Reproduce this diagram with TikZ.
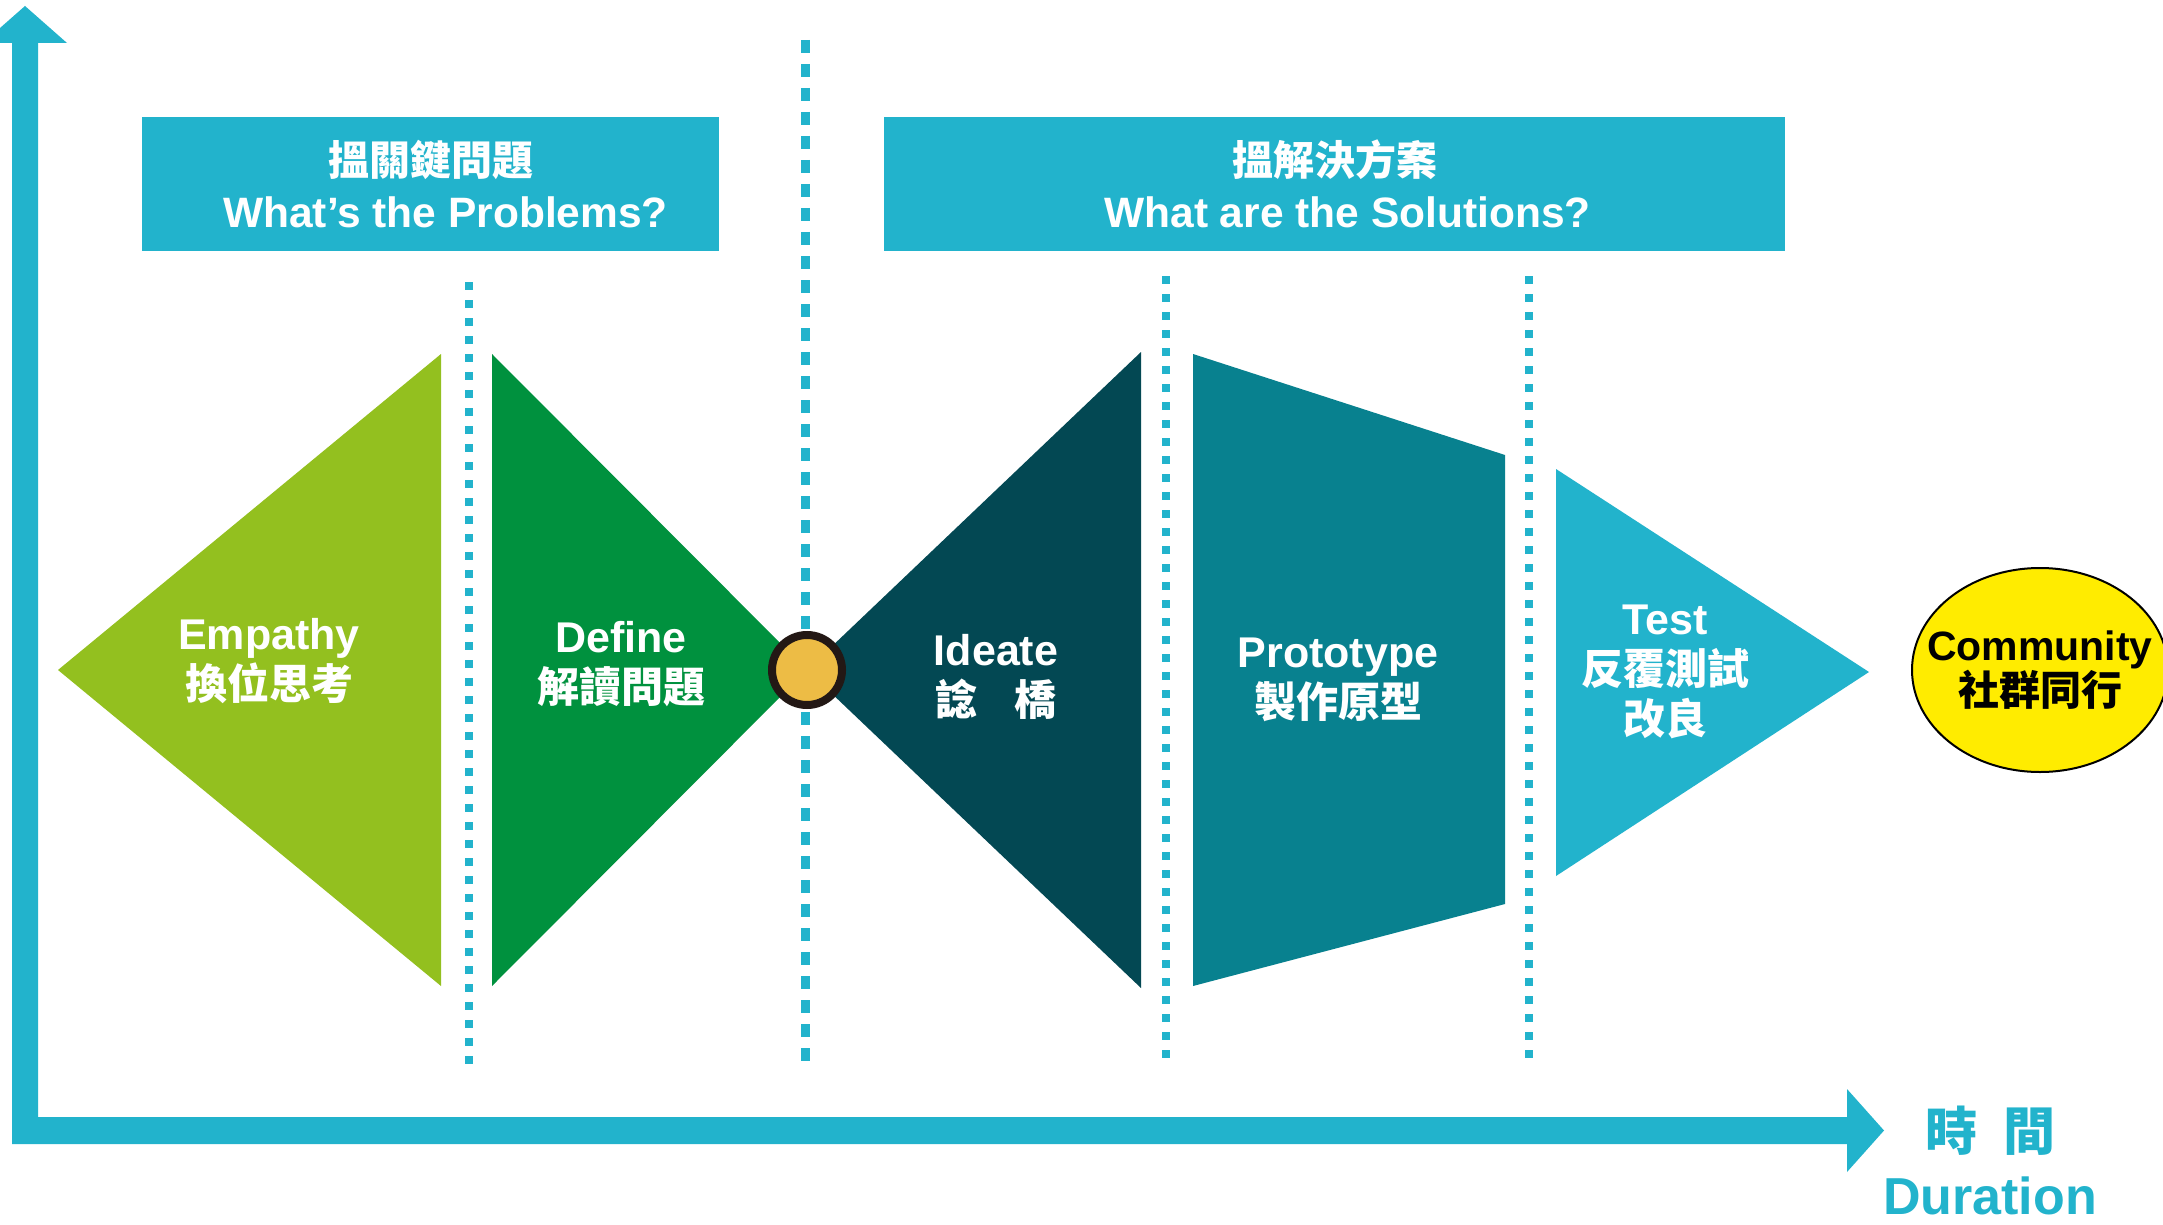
\documentclass[tikz,border=0pt]{standalone}
\usepackage{fontspec}
\setmainfont{Liberation Sans}
\newfontfamily\cjk{Noto Sans CJK TC}
\usetikzlibrary{shapes.geometric}
\definecolor{axiscyan}{RGB}{34,179,204}
\definecolor{empcol}{RGB}{147,192,31}
\definecolor{defcol}{RGB}{0,145,62}
\definecolor{ideacol}{RGB}{3,72,83}
\definecolor{protocol}{RGB}{8,129,143}
\definecolor{testcol}{RGB}{34,179,204}
\definecolor{goldcol}{RGB}{237,188,69}
\definecolor{ringcol}{RGB}{35,24,21}
\definecolor{yellowcol}{RGB}{255,236,0}
\tikzset{
  hdrbox/.style={fill=axiscyan, minimum width=577pt, minimum height=134pt, inner sep=0pt,
    text=white, align=center, font=\bfseries\fontsize{42.5}{52}\selectfont},
  stagetext/.style={text=white, align=center, inner sep=0pt, font=\bfseries\fontsize{43}{50}\selectfont},
  cjkstage/.style={},
  dotsmall/.style={draw=axiscyan, line width=8pt, dash pattern=on 8pt off 10pt},
  dotbig/.style={draw=axiscyan, line width=9pt, dash pattern=on 13pt off 11pt},
  axisfill/.style={fill=axiscyan},
}
\newcommand{\cjs}[1]{{\cjk\fontsize{42}{50}\selectfont #1}}
\begin{document}
\begin{tikzpicture}[x=1pt,y=-1pt]
\useasboundingbox (0,0) rectangle (2163,1225);
\fill[white] (0,0) rectangle (2163,1225);

% axes
\coordinate (origin) at (25,1130.5);
\fill[axisfill] (12,1144) -- (12,43) -- (-17,43) -- (25,6) -- (67,43) -- (38,43) -- (38,1117)
  -- (1847,1117) -- (1847,1089) -- (1884,1130.5) -- (1847,1172) -- (1847,1144) -- cycle;

% header boxes
\node[hdrbox] (hdrA) at (430.5,184) {{\cjk\fontsize{41}{52}\selectfont 搵關鍵問題}\\\hspace*{30pt}What’s the Problems?};
\node[hdrbox, minimum width=901pt] (hdrB) at (1334.5,184) {{\cjk\fontsize{41}{52}\selectfont 搵解決方案}\\\hspace*{26pt}What are the Solutions?};

% dotted separators
\draw[dotsmall] (469,282) -- (469,1065);
\draw[dotbig] (805,40) -- (805,1065);
\draw[dotsmall] (1166,276) -- (1166,1065);
\draw[dotsmall] (1529,276) -- (1529,1065);

% stage shapes
\coordinate (mid) at (807,670);
\fill[empcol] (58,670) -- (441,354) -- (441,986) -- cycle;
\fill[defcol] (492,354) -- (mid) -- (492,986) -- cycle;
\fill[ideacol] (1141,352) -- (mid) -- (1141,988) -- cycle;
\fill[protocol] (1193,354) -- (1505,455) -- (1505,904) -- (1193,986) -- cycle;
\fill[testcol] (1556,469) -- (1869,672) -- (1556,876) -- cycle;

% centre circle
\node[circle, draw=ringcol, line width=8pt, fill=goldcol, minimum size=70pt, inner sep=0pt] (hub) at (mid) {};

% stage labels
\node[stagetext] (tEmp) at (269,661) {Empathy\\\cjs{換位思考}};
\node[stagetext] (tDef) at (621,664) {Define\\\cjs{解讀問題}};
\node[stagetext] (tIdea) at (996,677) {Ideate\\\cjs{諗\hspace{0.9em}橋}};
\node[stagetext] (tProto) at (1338,680) {Prototype\\\cjs{製作原型}};
\node[stagetext] (tTest) at (1665,672) {Test\\\cjs{反覆測試}\\\cjs{改良}};

% community
\node[ellipse, draw=black, line width=2pt, fill=yellowcol, minimum width=256pt, minimum height=204pt,
  inner sep=0pt] (comm) at (2040,670) {};
\node[align=center, inner sep=0pt, font=\bfseries\fontsize{41}{45}\selectfont] (commtext) at (comm.center)
  {Community\\{\cjk 社群同行}};

% duration label
\node[text=axiscyan, align=center, inner sep=0pt, font=\bfseries\fontsize{52}{64}\selectfont] (dur) at (1990,1160)
  {{\cjk 時\hspace{0.5em}間}\\Duration};
\end{tikzpicture}
\end{document}
